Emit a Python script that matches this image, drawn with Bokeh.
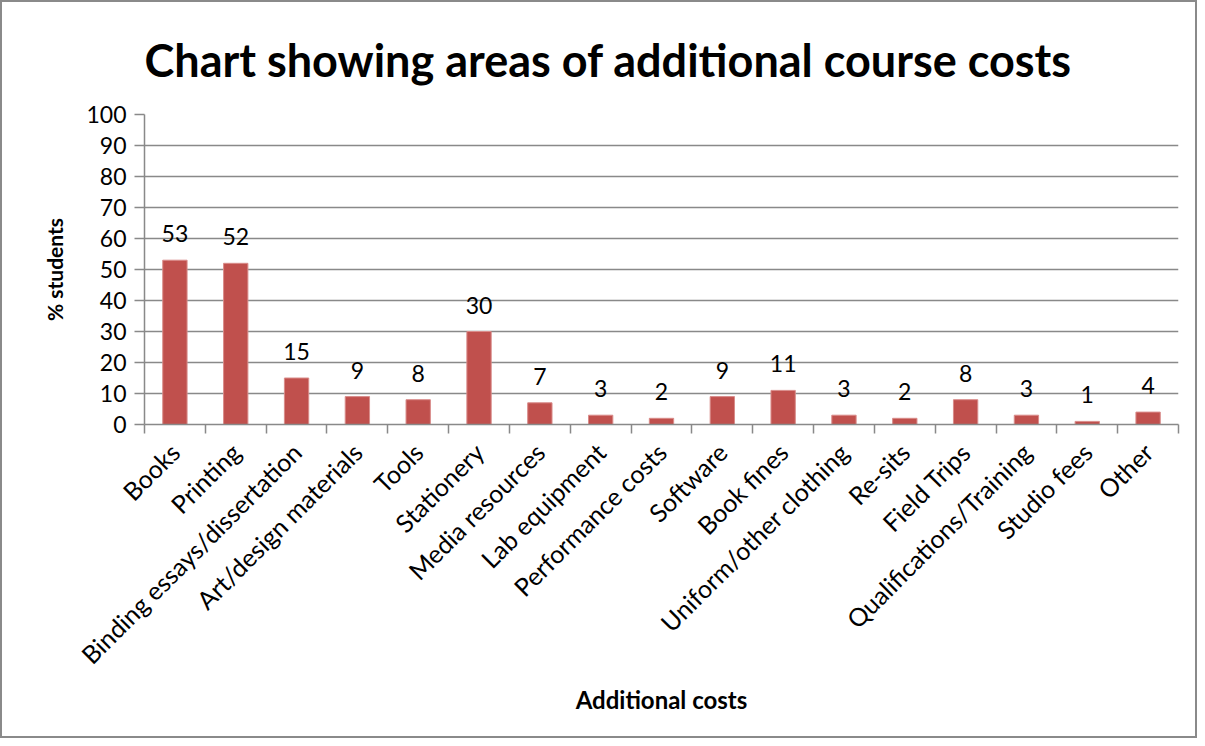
import math
from bokeh.plotting import figure
from bokeh.models import FixedTicker, Range1d, ColumnDataSource
from bokeh.core.properties import value
from bokeh.embed import file_html
from bokeh.resources import INLINE

categories = ["Books", "Printing", "Binding essays/dissertation", "Art/design materials",
              "Tools", "Stationery", "Media resources", "Lab equipment", "Performance costs",
              "Software", "Book fines", "Uniform/other clothing", "Re-sits", "Field Trips",
              "Qualifications/Training", "Studio fees", "Other"]
values = [53, 52, 15, 9, 8, 30, 7, 3, 2, 9, 11, 3, 2, 8, 3, 1, 4]
y_ticks = [0, 10, 20, 30, 40, 50, 60, 70, 80, 90, 100]

FONT = "Lato"
GRAY = "#898989"
BAR = "#C0504D"

n = len(categories)
xs = [i + 0.5 for i in range(n)]
src = ColumnDataSource(dict(x=xs, top=values, label=[str(v) for v in values]))

p = figure(width=1197, height=738, output_backend="svg", toolbar_location=None,
           x_range=Range1d(0, n), y_range=Range1d(0, 100),
           min_border_left=142, min_border_right=21, min_border_top=112, min_border_bottom=316,
           title="Chart showing areas of additional course costs",
           styles={"border": "2px solid #8a8a8a"})
p.outline_line_color = None

p.title.text_font = FONT
p.title.text_font_size = "45px"
p.title.text_font_style = "bold"
p.title.text_color = "black"
p.title.align = "left"
p.title.offset = 0
p.title.standoff = 56

p.vbar(x="x", top="top", width=0.4, source=src, fill_color=BAR, line_color="#D98C8A", line_width=1)
p.text(x="x", y="top", text="label", source=src, text_align="center", text_baseline="bottom",
       y_offset=-18, text_font=value(FONT), text_font_size="23px", text_color="black")

xa = p.xaxis[0]
xa.ticker = FixedTicker(ticks=xs, minor_ticks=list(range(n + 1)))
xa.major_label_overrides = {x: c for x, c in zip(xs, categories)}
xa.major_label_orientation = math.pi / 4
xa.major_tick_in = 0
xa.major_tick_out = 0
xa.minor_tick_in = 0
xa.minor_tick_out = 9
xa.minor_tick_line_color = GRAY
xa.minor_tick_line_width = 1.5
xa.axis_line_color = GRAY
xa.axis_line_width = 1.5
xa.major_label_text_font = FONT
xa.major_label_text_font_size = "25px"
xa.major_label_text_color = "black"
xa.major_label_standoff = 14
xa.axis_label = "Additional costs"
xa.axis_label_text_font = FONT
xa.axis_label_text_font_size = "24px"
xa.axis_label_text_font_style = "bold"
xa.axis_label_text_color = "black"
xa.axis_label_standoff = 2

ya = p.yaxis[0]
ya.ticker = FixedTicker(ticks=y_ticks)
ya.major_tick_in = 0
ya.major_tick_out = 10
ya.major_tick_line_color = GRAY
ya.major_tick_line_width = 1.5
ya.minor_tick_line_color = None
ya.axis_line_color = GRAY
ya.axis_line_width = 1.5
ya.major_label_text_font = FONT
ya.major_label_text_font_size = "23px"
ya.major_label_text_color = "black"
ya.major_label_standoff = 8
ya.axis_label = "% students"
ya.axis_label_text_font = FONT
ya.axis_label_text_font_size = "21px"
ya.axis_label_text_font_style = "bold"
ya.axis_label_text_color = "black"
ya.axis_label_standoff = 16

p.xgrid.visible = False
p.ygrid.ticker = FixedTicker(ticks=y_ticks)
p.ygrid.grid_line_color = GRAY
p.ygrid.grid_line_width = 1.5

open("out.html", "w").write(file_html(p, INLINE))
